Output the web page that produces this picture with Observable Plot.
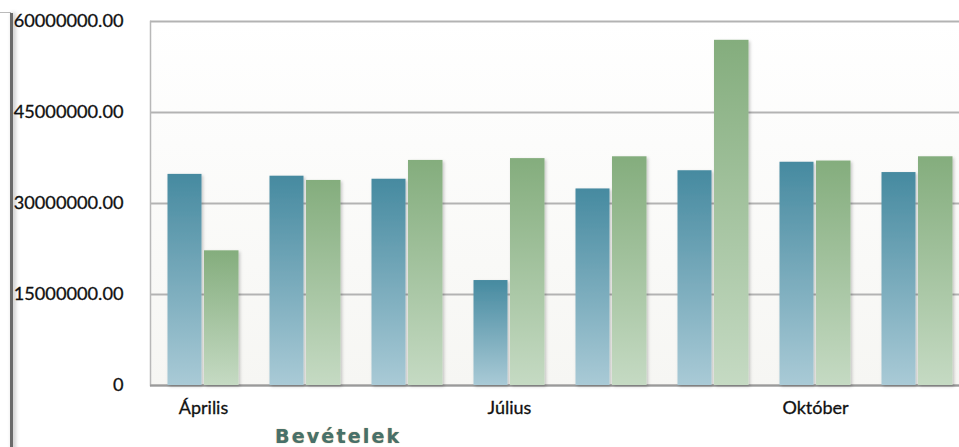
<!DOCTYPE html>
<html>
<head>
<meta charset="utf-8">
<script src="https://cdn.jsdelivr.net/npm/d3@7"></script>
<script src="https://cdn.jsdelivr.net/npm/@observablehq/plot@0.6"></script>
<style>
  html, body { margin: 0; padding: 0; background: #fff; overflow: hidden; }
  #wrap { position: relative; width: 959px; height: 447px; }
  #edge { position: absolute; left: 10px; top: 13px; width: 3px; height: 440px; background: #6a6a6a;
          box-shadow: 2px 0 4px rgba(0,0,0,0.3); }
  #edgeTop { position: absolute; left: 0; top: 12px; width: 11px; height: 1px; background: #bbb; }
  #legend { position: absolute; left: 275px; top: 425px; font-family: "DejaVu Sans", sans-serif; font-weight: bold;
            font-size: 19px; line-height: 22px; letter-spacing: 2.2px; color: #46706c;
            text-shadow: 0 0 1px rgba(200,140,60,0.9); }
</style>
</head>
<body>
<div id="wrap">
  <svg width="0" height="0" style="position:absolute">
    <defs>
      <linearGradient id="gBlue" x1="0" y1="0" x2="0" y2="1">
        <stop offset="0" stop-color="#468aa0"/>
        <stop offset="1" stop-color="#a9cad6"/>
      </linearGradient>
      <linearGradient id="gGreen" x1="0" y1="0" x2="0" y2="1">
        <stop offset="0" stop-color="#84ad7d"/>
        <stop offset="1" stop-color="#c5dac3"/>
      </linearGradient>
      <linearGradient id="gBg" x1="0" y1="0" x2="0" y2="1">
        <stop offset="0" stop-color="#ffffff"/>
        <stop offset="1" stop-color="#f6f6f3"/>
      </linearGradient>
      <filter id="shadow" x="-20%" y="-5%" width="150%" height="115%">
        <feDropShadow dx="1.5" dy="1.5" stdDeviation="1.5" flood-color="#000" flood-opacity="0.22"/>
      </filter>
    </defs>
  </svg>
  <div id="chart"></div>
  <div id="edgeTop"></div>
  <div id="edge"></div>
  <div id="legend">Bevételek</div>
</div>
<script>
const months = ["Április", "Május", "Június", "Július", "Augusztus", "Szeptember", "Október", "November"];
const seriesBlue = [34.8e6, 34.5e6, 34.0e6, 17.3e6, 32.4e6, 35.4e6, 36.8e6, 35.1e6];
const seriesGreen = [22.2e6, 33.8e6, 37.1e6, 37.4e6, 37.7e6, 56.9e6, 37.0e6, 37.7e6];
const yTicks = [0, 15e6, 30e6, 45e6, 60e6];
const xTickLabels = ["Április", "Július", "Október"];

const blueData = months.map((m, i) => ({month: m, value: seriesBlue[i]}));
const greenData = months.map((m, i) => ({month: m, value: seriesGreen[i]}));

const chart = Plot.plot({
  width: 959,
  height: 447,
  marginLeft: 150,
  marginRight: 0,
  marginTop: 21,
  marginBottom: 62,
  style: {fontFamily: "Lato, sans-serif", fontSize: "18px", color: "#111", background: "transparent", overflow: "visible"},
  x: {domain: months, range: [150, 970], padding: 0},
  y: {domain: [0, 60e6], range: [385, 21]},
  marks: [
    Plot.frame({fill: "url(#gBg)", stroke: "none"}),
    Plot.ruleY(yTicks, {stroke: "#b3b3b3", strokeWidth: 2}),
    Plot.frame({anchor: "left", stroke: "#b8b8b8", strokeWidth: 1.5}),
    Plot.ruleY([0], {stroke: "#9a9a9a", strokeWidth: 2}),
    Plot.barY(blueData, {x: "month", y: "value", fill: "url(#gBlue)", insetLeft: 15.5, insetRight: 52.5}),
    Plot.barY(greenData, {x: "month", y: "value", fill: "url(#gGreen)", insetLeft: 52, insetRight: 15.5}),
    Plot.axisY(yTicks, {tickSize: 0, tickPadding: 27, label: null,
      tickFormat: d => d === 0 ? "0" : d.toFixed(2), fontSize: 18.2}),
    Plot.axisX(xTickLabels, {tickSize: 0, tickPadding: 16, label: null, fontSize: 18})
  ]
});
chart.querySelectorAll("g[aria-label='bar']").forEach(g => g.setAttribute("filter", "url(#shadow)"));
chart.querySelectorAll("g[aria-label='y-axis tick label'] text, g[aria-label='x-axis tick label'] text").forEach(t => { t.setAttribute("stroke", "#111"); t.setAttribute("stroke-width", "0.3"); });
document.getElementById("chart").appendChild(chart);
</script>
</body>
</html>
